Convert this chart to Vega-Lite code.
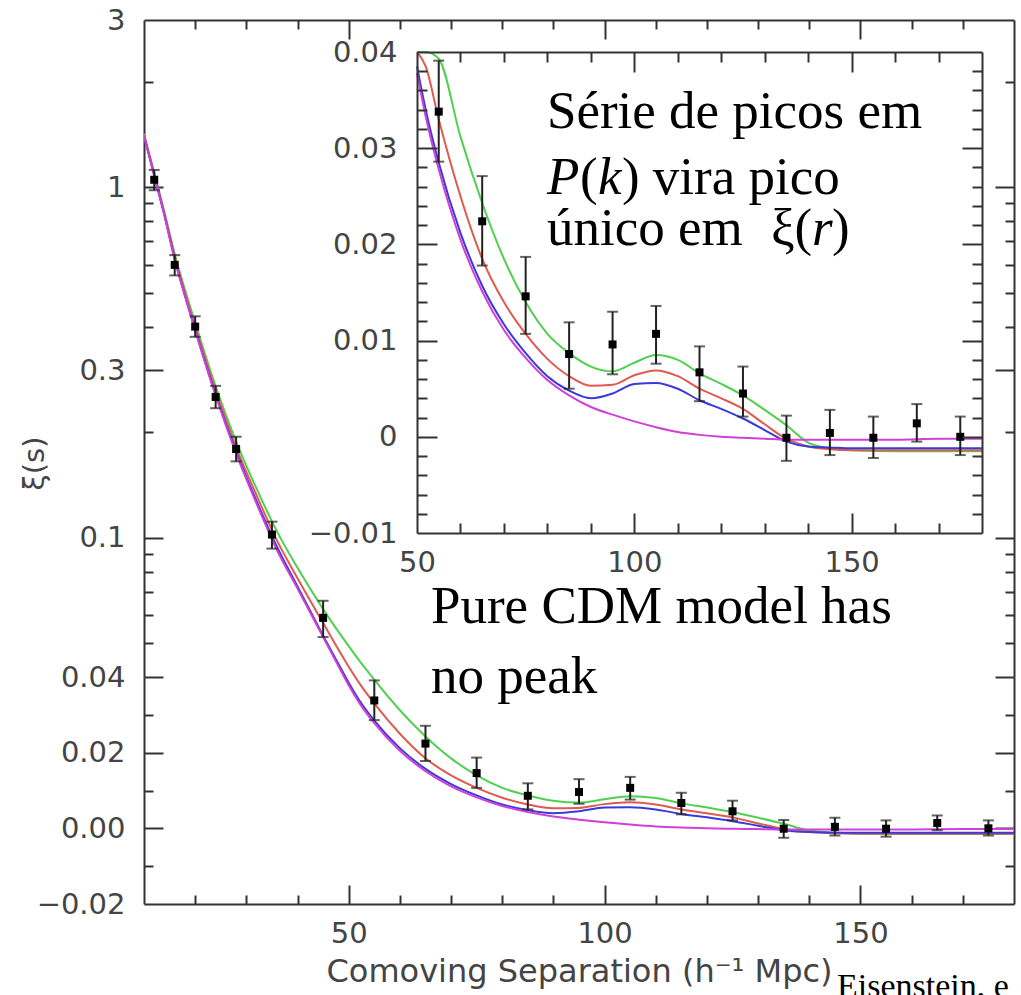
{
  "$schema": "https://vega.github.io/schema/vega-lite/v6.json",
  "padding": {"left": 20, "top": 6, "right": 0, "bottom": 0},
  "background": "white",
  "config": {
    "view": {"stroke": null, "fill": null},
    "axis": {
      "labelFont": "DejaVu Sans", "labelFontSize": 29, "labelColor": "#444",
      "titleFont": "DejaVu Sans", "titleFontSize": 29, "titleColor": "#444", "titleFontWeight": "normal",
      "domainColor": "#333", "domainWidth": 2, "tickColor": "#333", "tickWidth": 2,
      "grid": false, "labelFlush": false, "labelOverlap": false, "labelAngle": 0
    }
  },
  "datasets": {
    "curves": [
      {"x":10,"m":"g","v":1.42},{"x":10,"m":"r","v":1.41},{"x":10,"m":"b","v":1.40},{"x":10,"m":"p","v":1.40},
      {"x":12,"m":"g","v":1.10},{"x":12,"m":"r","v":1.09},{"x":12,"m":"b","v":1.08},{"x":12,"m":"p","v":1.08},
      {"x":14,"m":"g","v":0.85},{"x":14,"m":"r","v":0.84},{"x":14,"m":"b","v":0.83},{"x":14,"m":"p","v":0.83},
      {"x":16,"m":"g","v":0.645},{"x":16,"m":"r","v":0.635},{"x":16,"m":"b","v":0.625},{"x":16,"m":"p","v":0.62},
      {"x":18,"m":"g","v":0.51},{"x":18,"m":"r","v":0.50},{"x":18,"m":"b","v":0.49},{"x":18,"m":"p","v":0.49},
      {"x":20,"m":"g","v":0.41},{"x":20,"m":"r","v":0.40},{"x":20,"m":"b","v":0.392},{"x":20,"m":"p","v":0.39},
      {"x":24,"m":"g","v":0.27},{"x":24,"m":"r","v":0.263},{"x":24,"m":"b","v":0.256},{"x":24,"m":"p","v":0.254},
      {"x":28,"m":"g","v":0.188},{"x":28,"m":"r","v":0.181},{"x":28,"m":"b","v":0.176},{"x":28,"m":"p","v":0.174},
      {"x":32,"m":"g","v":0.138},{"x":32,"m":"r","v":0.132},{"x":32,"m":"b","v":0.127},{"x":32,"m":"p","v":0.125},
      {"x":36,"m":"g","v":0.104},{"x":36,"m":"r","v":0.098},{"x":36,"m":"b","v":0.094},{"x":36,"m":"p","v":0.092},
      {"x":40,"m":"g","v":0.082},{"x":40,"m":"r","v":0.0765},{"x":40,"m":"b","v":0.0725},{"x":40,"m":"p","v":0.0715},
      {"x":45,"m":"g","v":0.0625},{"x":45,"m":"r","v":0.057},{"x":45,"m":"b","v":0.0525},{"x":45,"m":"p","v":0.052},
      {"x":50,"m":"g","v":0.049},{"x":50,"m":"r","v":0.0428},{"x":50,"m":"b","v":0.0385},{"x":50,"m":"p","v":0.0378},
      {"x":52,"m":"g","v":0.0447},{"x":52,"m":"r","v":0.0385},{"x":52,"m":"b","v":0.034},{"x":52,"m":"p","v":0.0333},
      {"x":55,"m":"g","v":0.0393},{"x":55,"m":"r","v":0.033},{"x":55,"m":"b","v":0.0285},{"x":55,"m":"p","v":0.0278},
      {"x":60,"m":"g","v":0.0312},{"x":60,"m":"r","v":0.025},{"x":60,"m":"b","v":0.0212},{"x":60,"m":"p","v":0.0205},
      {"x":65,"m":"g","v":0.0243},{"x":65,"m":"r","v":0.0185},{"x":65,"m":"b","v":0.0157},{"x":65,"m":"p","v":0.0151},
      {"x":70,"m":"g","v":0.0185},{"x":70,"m":"r","v":0.014},{"x":70,"m":"b","v":0.0117},{"x":70,"m":"p","v":0.0111},
      {"x":75,"m":"g","v":0.014},{"x":75,"m":"r","v":0.0107},{"x":75,"m":"b","v":0.0087},{"x":75,"m":"p","v":0.0082},
      {"x":80,"m":"g","v":0.0107},{"x":80,"m":"r","v":0.0081},{"x":80,"m":"b","v":0.0063},{"x":80,"m":"p","v":0.0059},
      {"x":85,"m":"g","v":0.0087},{"x":85,"m":"r","v":0.0063},{"x":85,"m":"b","v":0.0048},{"x":85,"m":"p","v":0.0043},
      {"x":90,"m":"g","v":0.0073},{"x":90,"m":"r","v":0.0053},{"x":90,"m":"b","v":0.004},{"x":90,"m":"p","v":0.0031},
      {"x":95,"m":"g","v":0.0068},{"x":95,"m":"r","v":0.0054},{"x":95,"m":"b","v":0.0045},{"x":95,"m":"p","v":0.0023},
      {"x":100,"m":"g","v":0.0077},{"x":100,"m":"r","v":0.0064},{"x":100,"m":"b","v":0.0055},{"x":100,"m":"p","v":0.0016},
      {"x":105,"m":"g","v":0.0085},{"x":105,"m":"r","v":0.0069},{"x":105,"m":"b","v":0.0056},{"x":105,"m":"p","v":0.001},
      {"x":110,"m":"g","v":0.008},{"x":110,"m":"r","v":0.0063},{"x":110,"m":"b","v":0.005},{"x":110,"m":"p","v":0.0005},
      {"x":115,"m":"g","v":0.0066},{"x":115,"m":"r","v":0.005},{"x":115,"m":"b","v":0.0038},{"x":115,"m":"p","v":0.0002},
      {"x":120,"m":"g","v":0.0055},{"x":120,"m":"r","v":0.004},{"x":120,"m":"b","v":0.0029},{"x":120,"m":"p","v":0.0},
      {"x":125,"m":"g","v":0.0043},{"x":125,"m":"r","v":0.0029},{"x":125,"m":"b","v":0.0019},{"x":125,"m":"p","v":-0.0001},
      {"x":130,"m":"g","v":0.0028},{"x":130,"m":"r","v":0.0013},{"x":130,"m":"b","v":0.0007},{"x":130,"m":"p","v":-0.0002},
      {"x":135,"m":"g","v":0.0012},{"x":135,"m":"r","v":-0.0002},{"x":135,"m":"b","v":-0.0005},{"x":135,"m":"p","v":-0.0003},
      {"x":140,"m":"g","v":-0.0006},{"x":140,"m":"r","v":-0.001},{"x":140,"m":"b","v":-0.001},{"x":140,"m":"p","v":-0.0003},
      {"x":145,"m":"g","v":-0.0012},{"x":145,"m":"r","v":-0.0013},{"x":145,"m":"b","v":-0.0011},{"x":145,"m":"p","v":-0.0003},
      {"x":150,"m":"g","v":-0.0014},{"x":150,"m":"r","v":-0.0014},{"x":150,"m":"b","v":-0.0012},{"x":150,"m":"p","v":-0.0003},
      {"x":160,"m":"g","v":-0.0015},{"x":160,"m":"r","v":-0.0014},{"x":160,"m":"b","v":-0.0012},{"x":160,"m":"p","v":-0.0003},
      {"x":170,"m":"g","v":-0.0015},{"x":170,"m":"r","v":-0.0014},{"x":170,"m":"b","v":-0.0012},{"x":170,"m":"p","v":-0.0002},
      {"x":180,"m":"g","v":-0.0015},{"x":180,"m":"r","v":-0.0014},{"x":180,"m":"b","v":-0.0012},{"x":180,"m":"p","v":-0.0002}
    ],
    "pts": [
      {"x":12,"xi":1.05,"lo":0.98,"hi":1.12},
      {"x":16,"xi":0.60,"lo":0.56,"hi":0.64},
      {"x":20,"xi":0.40,"lo":0.374,"hi":0.428},
      {"x":24,"xi":0.252,"lo":0.234,"hi":0.271},
      {"x":28,"xi":0.179,"lo":0.165,"hi":0.194},
      {"x":35,"xi":0.102,"lo":0.093,"hi":0.111},
      {"x":45,"xi":0.059,"lo":0.052,"hi":0.066},
      {"x":55,"xi":0.0338,"lo":0.0286,"hi":0.0391},
      {"x":65,"xi":0.0224,"lo":0.0178,"hi":0.0271},
      {"x":75,"xi":0.0146,"lo":0.0107,"hi":0.0187},
      {"x":85,"xi":0.0086,"lo":0.005,"hi":0.0119},
      {"x":95,"xi":0.0096,"lo":0.0065,"hi":0.013},
      {"x":105,"xi":0.0107,"lo":0.0076,"hi":0.0136},
      {"x":115,"xi":0.0067,"lo":0.0037,"hi":0.0094},
      {"x":125,"xi":0.0045,"lo":0.0021,"hi":0.0073},
      {"x":135,"xi":-0.0001,"lo":-0.0025,"hi":0.0022},
      {"x":145,"xi":0.0004,"lo":-0.0019,"hi":0.0028},
      {"x":155,"xi":-0.0001,"lo":-0.0022,"hi":0.0021},
      {"x":165,"xi":0.0014,"lo":-0.0005,"hi":0.0034},
      {"x":175,"xi":0.0,"lo":-0.0019,"hi":0.0021}
    ]
  },
  "spacing": 0,
  "bounds": "flush",
  "resolve": {"scale": {"x": "independent", "y": "independent"}},
  "vconcat": [
    {
      "width": 870,
      "height": 657,
      "resolve": {"scale": {"x": "independent", "y": "independent"}},
      "layer": [
        {
          "resolve": {"axis": {"x": "independent", "y": "independent"}},
          "layer": [
            {
              "data": {"name": "curves"},
              "transform": [{"filter": "datum.x <= 65"}],
              "mark": {"type": "line", "clip": true, "strokeWidth": 2, "interpolate": "monotone"},
              "encoding": {
                "x": {"field": "x", "type": "quantitative", "scale": {"domain": [10, 180], "nice": false},
                      "axis": {"orient": "top", "values": [50, 100, 150], "labels": false, "tickSize": -19, "domain": true, "title": null}},
                "y": {"field": "v", "type": "quantitative", "scale": {"type": "log", "domain": [0.04, 3], "nice": false},
                      "axis": {"orient": "left", "values": [3, 1, 0.3, 0.1, 0.04], "format": "~g", "ticks": false, "labelPadding": 19, "domain": true,
                               "title": "ξ(s)", "titleX": -110, "titleY": 443, "titleAngle": -90, "titleAlign": "center", "titleBaseline": "middle"}},
                "color": {"field": "m", "type": "nominal", "legend": null,
                          "scale": {"domain": ["p", "b", "r", "g"], "range": ["#d040d8", "#3a3ad8", "#e05a50", "#50d050"]}}
              }
            },
            {
              "data": {"name": "pts"},
              "transform": [{"filter": "datum.x < 50"}],
              "mark": {"type": "rule", "clip": true, "strokeWidth": 2, "color": "#222"},
              "encoding": {
                "x": {"field": "x", "type": "quantitative", "scale": {"domain": [10, 180], "nice": false},
                      "axis": {"orient": "top", "values": [20, 30, 40, 60, 70, 80, 90, 110, 120, 130, 140, 160, 170], "labels": false, "tickSize": -9, "domain": false, "title": null}},
                "y": {"field": "lo", "type": "quantitative", "scale": {"type": "log", "domain": [0.04, 3], "nice": false},
                      "axis": {"orient": "left", "values": [1, 0.3, 0.1, 0.04], "labels": false, "tickSize": -19, "domain": false, "title": null}},
                "y2": {"field": "hi"}
              }
            },
            {
              "data": {"name": "pts"},
              "transform": [{"filter": "datum.x < 50"}],
              "mark": {"type": "tick", "orient": "horizontal", "clip": true, "size": 11, "thickness": 2, "color": "#222"},
              "encoding": {
                "x": {"field": "x", "type": "quantitative", "scale": {"domain": [10, 180], "nice": false}, "axis": null},
                "y": {"field": "lo", "type": "quantitative", "scale": {"type": "log", "domain": [0.04, 3], "nice": false},
                      "axis": {"orient": "left", "values": [2, 0.9, 0.8, 0.7, 0.6, 0.5, 0.4, 0.2, 0.09, 0.08, 0.07, 0.06, 0.05], "labels": false, "tickSize": -9, "domain": false, "title": null}}
              }
            },
            {
              "data": {"name": "pts"},
              "transform": [{"filter": "datum.x < 50"}],
              "mark": {"type": "tick", "orient": "horizontal", "clip": true, "size": 11, "thickness": 2, "color": "#222"},
              "encoding": {
                "x": {"field": "x", "type": "quantitative", "scale": {"domain": [10, 180], "nice": false}, "axis": null},
                "y": {"field": "hi", "type": "quantitative", "scale": {"type": "log", "domain": [0.04, 3], "nice": false},
                      "axis": {"orient": "right", "values": [1, 0.3, 0.1, 0.04], "labels": false, "tickSize": -19, "domain": true, "title": null}}
              }
            },
            {
              "data": {"name": "pts"},
              "transform": [{"filter": "datum.x < 50"}],
              "mark": {"type": "square", "clip": true, "size": 64, "opacity": 1, "color": "#000"},
              "encoding": {
                "x": {"field": "x", "type": "quantitative", "scale": {"domain": [10, 180], "nice": false}, "axis": null},
                "y": {"field": "xi", "type": "quantitative", "scale": {"type": "log", "domain": [0.04, 3], "nice": false},
                      "axis": {"orient": "right", "values": [2, 0.9, 0.8, 0.7, 0.6, 0.5, 0.4, 0.2, 0.09, 0.08, 0.07, 0.06, 0.05], "labels": false, "tickSize": -9, "domain": false, "title": null}}
              }
            },
            {
              "data": {"values": [{}]},
              "mark": {"type": "text", "text": ["Pure CDM model has", "no peak"], "font": "Liberation Serif", "fontSize": 53, "lineHeight": 70, "align": "left", "baseline": "alphabetic", "color": "#000"},
              "encoding": {
                "x": {"datum": 66.08, "type": "quantitative", "scale": {"domain": [10, 180], "nice": false}, "axis": null},
                "y": {"datum": 0.0571, "type": "quantitative", "scale": {"type": "log", "domain": [0.04, 3], "nice": false}, "axis": null}
              }
            }
          ]
        },
        {
          "resolve": {"axis": {"x": "independent", "y": "independent"}},
          "layer": [
            {
              "data": {"values": [{}]},
              "mark": {"type": "rect", "fill": "white"},
              "encoding": {
                "x": {"datum": 50, "type": "quantitative", "scale": {"domain": [50, 180], "range": [273, 838], "nice": false},
                      "axis": {"orient": "bottom", "offset": -144, "values": [50, 100, 150], "ticks": false, "labelPadding": 15, "domain": true, "title": null, "zindex": 1}},
                "x2": {"datum": 180},
                "y": {"datum": -0.01, "type": "quantitative", "scale": {"domain": [-0.01, 0.04], "range": [513, 32], "nice": false, "zero": false, "clamp": true},
                      "axis": {"orient": "left", "offset": -273, "values": [-0.01, 0, 0.01, 0.02, 0.03, 0.04], "format": ".2~f", "ticks": false, "labelPadding": 20, "domain": true, "title": null, "zindex": 1}},
                "y2": {"datum": 0.04}
              }
            },
            {
              "data": {"name": "curves"},
              "transform": [{"filter": "datum.x >= 50"}],
              "mark": {"type": "line", "strokeWidth": 2, "interpolate": "monotone"},
              "encoding": {
                "x": {"field": "x", "type": "quantitative", "scale": {"domain": [50, 180], "range": [273, 838], "nice": false},
                      "axis": {"orient": "bottom", "offset": -144, "values": [100, 150], "labels": false, "tickSize": -20, "domain": false, "title": null, "zindex": 1}},
                "y": {"field": "v", "type": "quantitative", "scale": {"domain": [-0.01, 0.04], "range": [513, 32], "nice": false, "zero": false, "clamp": true},
                      "axis": {"orient": "left", "offset": -273, "values": [0, 0.01, 0.02, 0.03], "labels": false, "tickSize": -20, "domain": false, "title": null, "zindex": 1}},
                "color": {"field": "m", "type": "nominal", "legend": null,
                          "scale": {"domain": ["p", "b", "r", "g"], "range": ["#d040d8", "#3a3ad8", "#e05a50", "#50d050"]}}
              }
            },
            {
              "data": {"name": "pts"},
              "transform": [{"filter": "datum.x > 50"}],
              "mark": {"type": "rule", "strokeWidth": 2, "color": "#222"},
              "encoding": {
                "x": {"field": "x", "type": "quantitative", "scale": {"domain": [50, 180], "range": [273, 838], "nice": false},
                      "axis": {"orient": "bottom", "offset": -144, "values": [60, 70, 80, 90, 110, 120, 130, 140, 160, 170], "labels": false, "tickSize": -10, "domain": false, "title": null, "zindex": 1}},
                "y": {"field": "lo", "type": "quantitative", "scale": {"domain": [-0.01, 0.04], "range": [513, 32], "nice": false, "zero": false, "clamp": true},
                      "axis": {"orient": "left", "offset": -273, "values": [-0.008, -0.006, -0.004, -0.002, 0.002, 0.004, 0.006, 0.008, 0.012, 0.014, 0.016, 0.018, 0.022, 0.024, 0.026, 0.028, 0.032, 0.034, 0.036, 0.038], "labels": false, "tickSize": -10, "domain": false, "title": null, "zindex": 1}},
                "y2": {"field": "hi"}
              }
            },
            {
              "data": {"name": "pts"},
              "transform": [{"filter": "datum.x > 50"}],
              "mark": {"type": "tick", "orient": "horizontal", "size": 11, "thickness": 2, "color": "#222"},
              "encoding": {
                "x": {"field": "x", "type": "quantitative", "scale": {"domain": [50, 180], "range": [273, 838], "nice": false},
                      "axis": {"orient": "top", "offset": -32, "values": [100, 150], "labels": false, "tickSize": -20, "domain": true, "title": null, "zindex": 1}},
                "y": {"field": "lo", "type": "quantitative", "scale": {"domain": [-0.01, 0.04], "range": [513, 32], "nice": false, "zero": false, "clamp": true},
                      "axis": {"orient": "right", "offset": -32, "values": [0, 0.01, 0.02, 0.03], "labels": false, "tickSize": -20, "domain": true, "title": null, "zindex": 1}}
              }
            },
            {
              "data": {"name": "pts"},
              "transform": [{"filter": "datum.x > 50"}],
              "mark": {"type": "tick", "orient": "horizontal", "size": 11, "thickness": 2, "color": "#222"},
              "encoding": {
                "x": {"field": "x", "type": "quantitative", "scale": {"domain": [50, 180], "range": [273, 838], "nice": false},
                      "axis": {"orient": "top", "offset": -32, "values": [60, 70, 80, 90, 110, 120, 130, 140, 160, 170], "labels": false, "tickSize": -10, "domain": false, "title": null, "zindex": 1}},
                "y": {"field": "hi", "type": "quantitative", "scale": {"domain": [-0.01, 0.04], "range": [513, 32], "nice": false, "zero": false, "clamp": true},
                      "axis": {"orient": "right", "offset": -32, "values": [-0.008, -0.006, -0.004, -0.002, 0.002, 0.004, 0.006, 0.008, 0.012, 0.014, 0.016, 0.018, 0.022, 0.024, 0.026, 0.028, 0.032, 0.034, 0.036, 0.038], "labels": false, "tickSize": -10, "domain": false, "title": null, "zindex": 1}}
              }
            },
            {
              "data": {"name": "pts"},
              "transform": [{"filter": "datum.x > 50"}],
              "mark": {"type": "square", "size": 64, "opacity": 1, "color": "#000"},
              "encoding": {
                "x": {"field": "x", "type": "quantitative", "scale": {"domain": [50, 180], "range": [273, 838], "nice": false}, "axis": null},
                "y": {"field": "xi", "type": "quantitative", "scale": {"domain": [-0.01, 0.04], "range": [513, 32], "nice": false, "zero": false, "clamp": true}, "axis": null}
              }
            },
            {
              "data": {"values": [{}]},
              "mark": {"type": "text", "text": "Série de picos em", "font": "Liberation Serif", "fontSize": 53, "align": "left", "baseline": "alphabetic", "color": "#000"},
              "encoding": {
                "x": {"datum": 79.9, "type": "quantitative", "scale": {"domain": [50, 180], "range": [273, 838], "nice": false}, "axis": null},
                "y": {"datum": 0.0321, "type": "quantitative", "scale": {"domain": [-0.01, 0.04], "range": [513, 32], "nice": false, "zero": false, "clamp": true}, "axis": null}
              }
            },
            {
              "data": {"values": [{}]},
              "mark": {"type": "text", "text": "P", "font": "Liberation Serif", "fontStyle": "italic", "fontSize": 53, "align": "left", "baseline": "alphabetic", "color": "#000"},
              "encoding": {
                "x": {"datum": 79.9, "type": "quantitative", "scale": {"domain": [50, 180], "range": [273, 838], "nice": false}, "axis": null},
                "y": {"datum": 0.02524, "type": "quantitative", "scale": {"domain": [-0.01, 0.04], "range": [513, 32], "nice": false, "zero": false, "clamp": true}, "axis": null}
              }
            },
            {
              "data": {"values": [{}]},
              "mark": {"type": "text", "text": "(", "dx": 33, "font": "Liberation Serif", "fontSize": 53, "align": "left", "baseline": "alphabetic", "color": "#000"},
              "encoding": {
                "x": {"datum": 79.9, "type": "quantitative", "scale": {"domain": [50, 180], "range": [273, 838], "nice": false}, "axis": null},
                "y": {"datum": 0.02524, "type": "quantitative", "scale": {"domain": [-0.01, 0.04], "range": [513, 32], "nice": false, "zero": false, "clamp": true}, "axis": null}
              }
            },
            {
              "data": {"values": [{}]},
              "mark": {"type": "text", "text": "k", "dx": 51, "font": "Liberation Serif", "fontStyle": "italic", "fontSize": 53, "align": "left", "baseline": "alphabetic", "color": "#000"},
              "encoding": {
                "x": {"datum": 79.9, "type": "quantitative", "scale": {"domain": [50, 180], "range": [273, 838], "nice": false}, "axis": null},
                "y": {"datum": 0.02524, "type": "quantitative", "scale": {"domain": [-0.01, 0.04], "range": [513, 32], "nice": false, "zero": false, "clamp": true}, "axis": null}
              }
            },
            {
              "data": {"values": [{}]},
              "mark": {"type": "text", "text": ") vira pico", "dx": 75, "font": "Liberation Serif", "fontSize": 53, "align": "left", "baseline": "alphabetic", "color": "#000"},
              "encoding": {
                "x": {"datum": 79.9, "type": "quantitative", "scale": {"domain": [50, 180], "range": [273, 838], "nice": false}, "axis": null},
                "y": {"datum": 0.02524, "type": "quantitative", "scale": {"domain": [-0.01, 0.04], "range": [513, 32], "nice": false, "zero": false, "clamp": true}, "axis": null}
              }
            },
            {
              "data": {"values": [{}]},
              "mark": {"type": "text", "text": "único em", "font": "Liberation Serif", "fontSize": 53, "align": "left", "baseline": "alphabetic", "color": "#000"},
              "encoding": {
                "x": {"datum": 79.9, "type": "quantitative", "scale": {"domain": [50, 180], "range": [273, 838], "nice": false}, "axis": null},
                "y": {"datum": 0.01994, "type": "quantitative", "scale": {"domain": [-0.01, 0.04], "range": [513, 32], "nice": false, "zero": false, "clamp": true}, "axis": null}
              }
            },
            {
              "data": {"values": [{}]},
              "mark": {"type": "text", "text": "ξ(", "dx": 224, "font": "Liberation Serif", "fontSize": 53, "align": "left", "baseline": "alphabetic", "color": "#000"},
              "encoding": {
                "x": {"datum": 79.9, "type": "quantitative", "scale": {"domain": [50, 180], "range": [273, 838], "nice": false}, "axis": null},
                "y": {"datum": 0.01994, "type": "quantitative", "scale": {"domain": [-0.01, 0.04], "range": [513, 32], "nice": false, "zero": false, "clamp": true}, "axis": null}
              }
            },
            {
              "data": {"values": [{}]},
              "mark": {"type": "text", "text": "r", "dx": 265, "font": "Liberation Serif", "fontStyle": "italic", "fontSize": 53, "align": "left", "baseline": "alphabetic", "color": "#000"},
              "encoding": {
                "x": {"datum": 79.9, "type": "quantitative", "scale": {"domain": [50, 180], "range": [273, 838], "nice": false}, "axis": null},
                "y": {"datum": 0.01994, "type": "quantitative", "scale": {"domain": [-0.01, 0.04], "range": [513, 32], "nice": false, "zero": false, "clamp": true}, "axis": null}
              }
            },
            {
              "data": {"values": [{}]},
              "mark": {"type": "text", "text": ")", "dx": 285, "font": "Liberation Serif", "fontSize": 53, "align": "left", "baseline": "alphabetic", "color": "#000"},
              "encoding": {
                "x": {"datum": 79.9, "type": "quantitative", "scale": {"domain": [50, 180], "range": [273, 838], "nice": false}, "axis": null},
                "y": {"datum": 0.01994, "type": "quantitative", "scale": {"domain": [-0.01, 0.04], "range": [513, 32], "nice": false, "zero": false, "clamp": true}, "axis": null}
              }
            }
          ]
        }
      ]
    },
    {
      "width": 870,
      "height": 227,
      "resolve": {"axis": {"x": "independent", "y": "independent"}},
      "layer": [
        {
          "data": {"name": "curves"},
          "mark": {"type": "line", "clip": true, "strokeWidth": 2, "interpolate": "monotone"},
          "encoding": {
            "x": {"field": "x", "type": "quantitative", "scale": {"domain": [10, 180], "nice": false},
                  "axis": {"orient": "bottom", "values": [50, 100, 150], "ticks": false, "labelPadding": 15, "domain": true,
                           "title": "Comoving Separation (h⁻¹ Mpc)", "titleFontSize": 32, "titlePadding": 8}},
            "y": {"field": "v", "type": "quantitative", "scale": {"domain": [-0.02, 0.04], "nice": false, "zero": false},
                  "axis": {"orient": "left", "values": [0.02, 0, -0.02], "format": ".2f", "ticks": false, "labelPadding": 19, "domain": true, "title": null}},
            "color": {"field": "m", "type": "nominal", "legend": null,
                      "scale": {"domain": ["p", "b", "r", "g"], "range": ["#d040d8", "#3a3ad8", "#e05a50", "#50d050"]}}
          }
        },
        {
          "data": {"name": "pts"},
          "transform": [{"filter": "datum.x > 50"}],
          "mark": {"type": "rule", "clip": true, "strokeWidth": 2, "color": "#222"},
          "encoding": {
            "x": {"field": "x", "type": "quantitative", "scale": {"domain": [10, 180], "nice": false},
                  "axis": {"orient": "bottom", "values": [50, 100, 150], "labels": false, "tickSize": -19, "domain": false, "title": null}},
            "y": {"field": "lo", "type": "quantitative", "scale": {"domain": [-0.02, 0.04], "nice": false, "zero": false},
                  "axis": {"orient": "left", "values": [0.02, 0], "labels": false, "tickSize": -19, "domain": false, "title": null}},
            "y2": {"field": "hi"}
          }
        },
        {
          "data": {"name": "pts"},
          "transform": [{"filter": "datum.x > 50"}],
          "mark": {"type": "tick", "orient": "horizontal", "clip": true, "size": 11, "thickness": 2, "color": "#222"},
          "encoding": {
            "x": {"field": "x", "type": "quantitative", "scale": {"domain": [10, 180], "nice": false},
                  "axis": {"orient": "bottom", "values": [20, 30, 40, 60, 70, 80, 90, 110, 120, 130, 140, 160, 170], "labels": false, "tickSize": -9, "domain": false, "title": null}},
            "y": {"field": "lo", "type": "quantitative", "scale": {"domain": [-0.02, 0.04], "nice": false, "zero": false},
                  "axis": {"orient": "left", "values": [0.03, 0.01, -0.01], "labels": false, "tickSize": -9, "domain": false, "title": null}}
          }
        },
        {
          "data": {"name": "pts"},
          "transform": [{"filter": "datum.x > 50"}],
          "mark": {"type": "tick", "orient": "horizontal", "clip": true, "size": 11, "thickness": 2, "color": "#222"},
          "encoding": {
            "x": {"field": "x", "type": "quantitative", "scale": {"domain": [10, 180], "nice": false}, "axis": null},
            "y": {"field": "hi", "type": "quantitative", "scale": {"domain": [-0.02, 0.04], "nice": false, "zero": false},
                  "axis": {"orient": "right", "values": [0.02, 0], "labels": false, "tickSize": -19, "domain": true, "title": null}}
          }
        },
        {
          "data": {"name": "pts"},
          "transform": [{"filter": "datum.x > 50"}],
          "mark": {"type": "square", "clip": true, "size": 64, "opacity": 1, "color": "#000"},
          "encoding": {
            "x": {"field": "x", "type": "quantitative", "scale": {"domain": [10, 180], "nice": false}, "axis": null},
            "y": {"field": "xi", "type": "quantitative", "scale": {"domain": [-0.02, 0.04], "nice": false, "zero": false},
                  "axis": {"orient": "right", "values": [0.03, 0.01, -0.01], "labels": false, "tickSize": -9, "domain": false, "title": null}}
          }
        },
        {
          "data": {"values": [{}]},
          "mark": {"type": "text", "text": "Eisenstein, et al. 2005", "limit": 182, "ellipsis": " ", "font": "Liberation Serif", "fontSize": 34, "align": "left", "baseline": "alphabetic", "color": "#000"},
          "encoding": {
            "x": {"datum": 145.4, "type": "quantitative", "scale": {"domain": [10, 180], "nice": false}, "axis": null},
            "y": {"datum": -0.0446, "type": "quantitative", "scale": {"domain": [-0.02, 0.04], "nice": false, "zero": false}, "axis": null}
          }
        }
      ]
    }
  ]
}
